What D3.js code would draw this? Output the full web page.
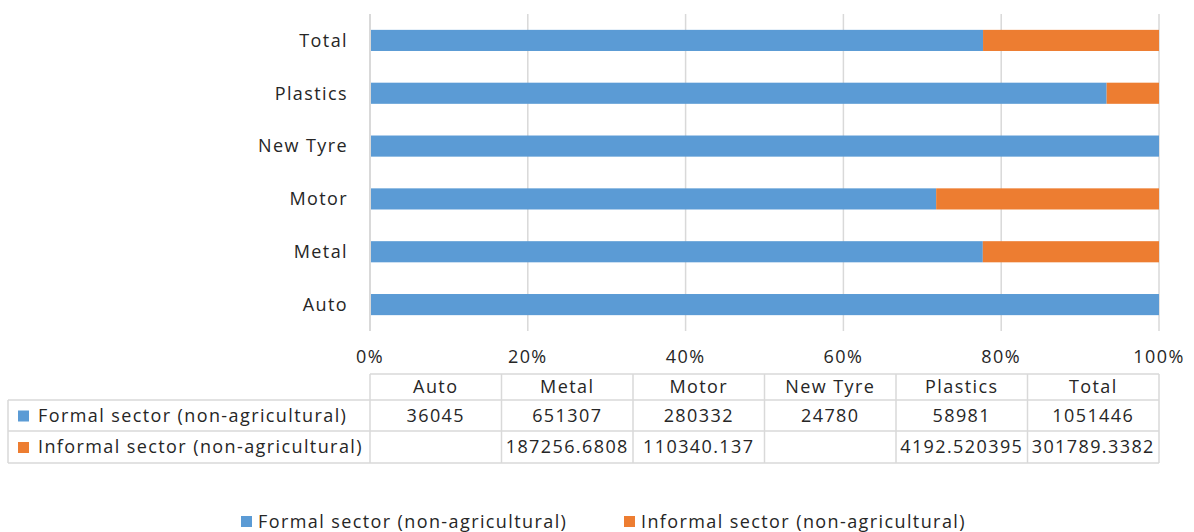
<!DOCTYPE html>
<html>
<head>
<meta charset="utf-8">
<script src="https://cdn.jsdelivr.net/npm/d3@7"></script>
<style>
  body { margin: 0; background: #fff; }
  text { font-family: "Open Sans", Lato, sans-serif; fill: #262626; letter-spacing: 1.4px; }
</style>
</head>
<body>
<div class="plot"></div>
<script>
// DATA
var categories = ["Auto", "Metal", "Motor", "New Tyre", "Plastics", "Total"];
var seriesNames = ["Formal sector (non-agricultural)", "Informal sector (non-agricultural)"];
var formal = [36045, 651307, 280332, 24780, 58981, 1051446];
var informal = [null, 187256.6808, 110340.137, null, 4192.520395, 301789.3382];
var formalText = ["36045", "651307", "280332", "24780", "58981", "1051446"];
var informalText = ["", "187256.6808", "110340.137", "", "4192.520395", "301789.3382"];
var ticks = [0, 0.2, 0.4, 0.6, 0.8, 1];
var colors = ["#5B9BD5", "#ED7D31"];

var w = 1194, h = 532;
var plotLeft = 370, plotRight = 1159, plotTop = 14, plotBottom = 331;
var fs = "18px";

var rows = categories.map(function (c, i) {
  var tot = formal[i] + (informal[i] || 0);
  return { cat: c, formal: formal[i] / tot, informal: (informal[i] || 0) / tot };
});
var series = d3.stack().keys(["formal", "informal"])(rows);

var svg = d3.select(".plot").append("svg").attr("width", w).attr("height", h);

// SCALES
var xScale = d3.scaleLinear().domain([0, 1]).range([plotLeft, plotRight]);
var yScale = d3.scaleBand()
  .domain(categories.slice().reverse())
  .range([plotTop, plotBottom])
  .paddingInner(0.6)
  .paddingOuter(0.3);

// gridlines
svg.append("g")
  .selectAll("line")
  .data(ticks)
  .enter()
  .append("line")
  .attr("x1", function (d) { return xScale(d); })
  .attr("x2", function (d) { return xScale(d); })
  .attr("y1", plotTop)
  .attr("y2", plotBottom)
  .attr("stroke", "#D9D9D9")
  .attr("stroke-width", 1.5);

// BARS
var groups = svg.selectAll("g.bar-group")
  .data(series)
  .enter()
  .append("g")
  .attr("class", "bar-group")
  .attr("fill", function (d, i) { return colors[i]; });

groups.selectAll("rect")
  .data(function (d) { return d; })
  .enter()
  .append("rect")
  .attr("x", function (d) { return xScale(d[0]); })
  .attr("y", function (d) { return yScale(d.data.cat); })
  .attr("width", function (d) { return xScale(d[1]) - xScale(d[0]); })
  .attr("height", yScale.bandwidth());

// axis line at 0
svg.append("line")
  .attr("x1", xScale(0)).attr("x2", xScale(0))
  .attr("y1", plotTop).attr("y2", plotBottom)
  .attr("stroke", "#D9D9D9").attr("stroke-width", 2);

// category labels
svg.append("g")
  .selectAll("text")
  .data(categories)
  .enter()
  .append("text")
  .attr("x", plotLeft - 22)
  .attr("y", function (d) { return yScale(d) + yScale.bandwidth() / 2; })
  .attr("dy", "0.35em")
  .attr("text-anchor", "end")
  .attr("font-size", fs)
  .text(function (d) { return d; });

// tick labels
svg.append("g")
  .selectAll("text")
  .data(ticks)
  .enter()
  .append("text")
  .attr("x", function (d) { return xScale(d); })
  .attr("y", 363)
  .attr("text-anchor", "middle")
  .attr("font-size", fs)
  .text(function (d) { return d3.format(".0%")(d); });

// DATA TABLE
var colScale = d3.scaleBand().domain(categories).range([plotLeft, plotRight]);
var rowY = [374, 400, 431, 463];
var tableLeft = 8;
var grid = svg.append("g").attr("stroke", "#D9D9D9").attr("stroke-width", 1.5);

// horizontal lines
grid.append("line").attr("x1", plotLeft).attr("x2", plotRight).attr("y1", rowY[0]).attr("y2", rowY[0]);
[1, 2, 3].forEach(function (r) {
  grid.append("line").attr("x1", tableLeft).attr("x2", plotRight).attr("y1", rowY[r]).attr("y2", rowY[r]);
});
// vertical lines
grid.append("line").attr("x1", tableLeft).attr("x2", tableLeft).attr("y1", rowY[1]).attr("y2", rowY[3]);
categories.concat(["end"]).forEach(function (c, i) {
  var x = i < categories.length ? colScale(c) : plotRight;
  grid.append("line").attr("x1", x).attr("x2", x).attr("y1", rowY[0]).attr("y2", rowY[3]);
});

// header
svg.append("g")
  .selectAll("text")
  .data(categories)
  .enter()
  .append("text")
  .attr("x", function (d) { return colScale(d) + colScale.bandwidth() / 2; })
  .attr("y", (rowY[0] + rowY[1]) / 2)
  .attr("dy", "0.35em")
  .attr("text-anchor", "middle")
  .attr("font-size", fs)
  .text(function (d) { return d; });

// row labels with keys
[formalText, informalText].forEach(function (vals, r) {
  var yMid = (rowY[r + 1] + rowY[r + 2]) / 2;
  svg.append("rect")
    .attr("x", 18).attr("y", yMid - 5)
    .attr("width", 11).attr("height", 11)
    .attr("fill", colors[r]);
  svg.append("text")
    .attr("x", 38).attr("y", yMid)
    .attr("dy", "0.35em")
    .attr("font-size", fs)
    .text(seriesNames[r]);
  svg.append("g")
    .selectAll("text")
    .data(vals)
    .enter()
    .append("text")
    .attr("x", function (d, i) { return colScale(categories[i]) + colScale.bandwidth() / 2; })
    .attr("y", yMid)
    .attr("dy", "0.35em")
    .attr("text-anchor", "middle")
    .attr("font-size", fs)
    .text(function (d) { return d; });
});

// LEGEND
var legendX = [241, 624];
seriesNames.forEach(function (name, i) {
  svg.append("rect")
    .attr("x", legendX[i]).attr("y", 516)
    .attr("width", 11).attr("height", 11)
    .attr("fill", colors[i]);
  svg.append("text")
    .attr("x", legendX[i] + 17).attr("y", 522)
    .attr("dy", "0.35em")
    .attr("font-size", fs)
    .text(name);
});
</script>
</body>
</html>
